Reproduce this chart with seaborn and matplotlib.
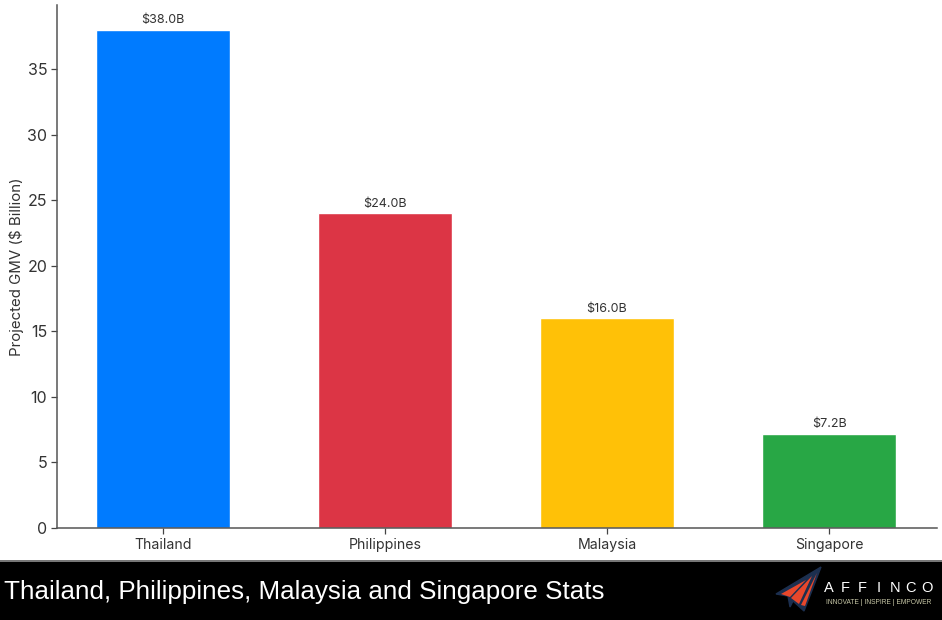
import matplotlib
matplotlib.use("Agg")
import matplotlib.pyplot as plt
from matplotlib.patches import Polygon, Rectangle
import seaborn as sns
import pandas as pd

# Values
countries = ["Thailand", "Philippines", "Malaysia", "Singapore"]
gmv_billion = [38.0, 24.0, 16.0, 7.2]
bar_colors = ["#007bff", "#dc3545", "#ffc107", "#28a745"]
y_ticks = [0, 5, 10, 15, 20, 25, 30, 35]

banner_title = "Thailand, Philippines, Malaysia and Singapore Stats"
logo_name = "AFFINCO"
logo_tagline = "INNOVATE | INSPIRE | EMPOWER"

W, H = 942, 620

sns.set_theme(style="white")
plt.rcParams["font.family"] = ["Inter", "DejaVu Sans"]

df = pd.DataFrame({"country": countries, "gmv": gmv_billion})

fig = plt.figure(figsize=(W / 100, H / 100), dpi=100, facecolor="white")
ax = fig.add_axes([57 / W, 1 - 528 / H, 880 / W, 523 / H])

sns.barplot(data=df, x="country", y="gmv", hue="country", palette=bar_colors,
            width=0.6, saturation=1, legend=False, ax=ax)

ax.set_xlim(-0.477, 3.486)
ax.set_ylim(0, 39.9)
ax.set_yticks(y_ticks)
ax.set_xlabel("")
ax.set_ylabel("Projected GMV ($ Billion)", fontsize=10.8, color="#333333")
ax.yaxis.set_label_coords(-0.038, 0.5)
ax.tick_params(axis="both", length=4, width=0.9, color="#444444", bottom=True, left=True)
ax.tick_params(axis="y", labelsize=11.5, labelcolor="#333333", pad=3)
ax.tick_params(axis="x", labelsize=10.2, labelcolor="#333333", pad=3)
sns.despine(ax=ax)
for side in ["left", "bottom"]:
    ax.spines[side].set_color("#555555")
    ax.spines[side].set_linewidth(1.1)

for container in ax.containers:
    ax.bar_label(container, fmt="${:.1f}B", padding=2.5, fontsize=9, color="#333333")

# Black banner along the bottom
fig.add_artist(Rectangle((0, 0), 1, 58.5 / H, transform=fig.transFigure, color="black", lw=0))
fig.add_artist(Rectangle((0, 58.5 / H), 1, 1.2 / H, transform=fig.transFigure, color="#777777", lw=0))
fig.text(4 / W, 1 - 592 / H, banner_title, color="white", fontsize=18.72,
         family="Liberation Sans", va="center", ha="left")


def px(points):
    return [(x / W, 1 - y / H) for x, y in points]


# Paper plane logo
outer = [(776, 594), (821, 567), (804, 611), (793, 601), (790, 607), (788, 596)]
fig.add_artist(Polygon(px(outer), transform=fig.transFigure, fc="#1c2f4f", ec="#1c2f4f", lw=1))
for wing in ([(781, 594), (806, 580), (790, 597)],
             [(791, 598), (812, 576), (799, 604)],
             [(801, 605), (817, 573), (805, 606)]):
    fig.add_artist(Polygon(px(wing), transform=fig.transFigure, fc="#e8472b", lw=0))

for i, letter in enumerate(logo_name):
    fig.text((829 + i * 16.4) / W, 1 - 588 / H, letter, color="white", fontsize=10.5,
             family="Liberation Sans", va="center", ha="center")
fig.text(826 / W, 1 - 603 / H, logo_tagline, color="#c9c9a8", fontsize=4.8,
         family="Liberation Sans", va="center", ha="left")

fig.savefig("out.png", dpi=100, facecolor="white")
